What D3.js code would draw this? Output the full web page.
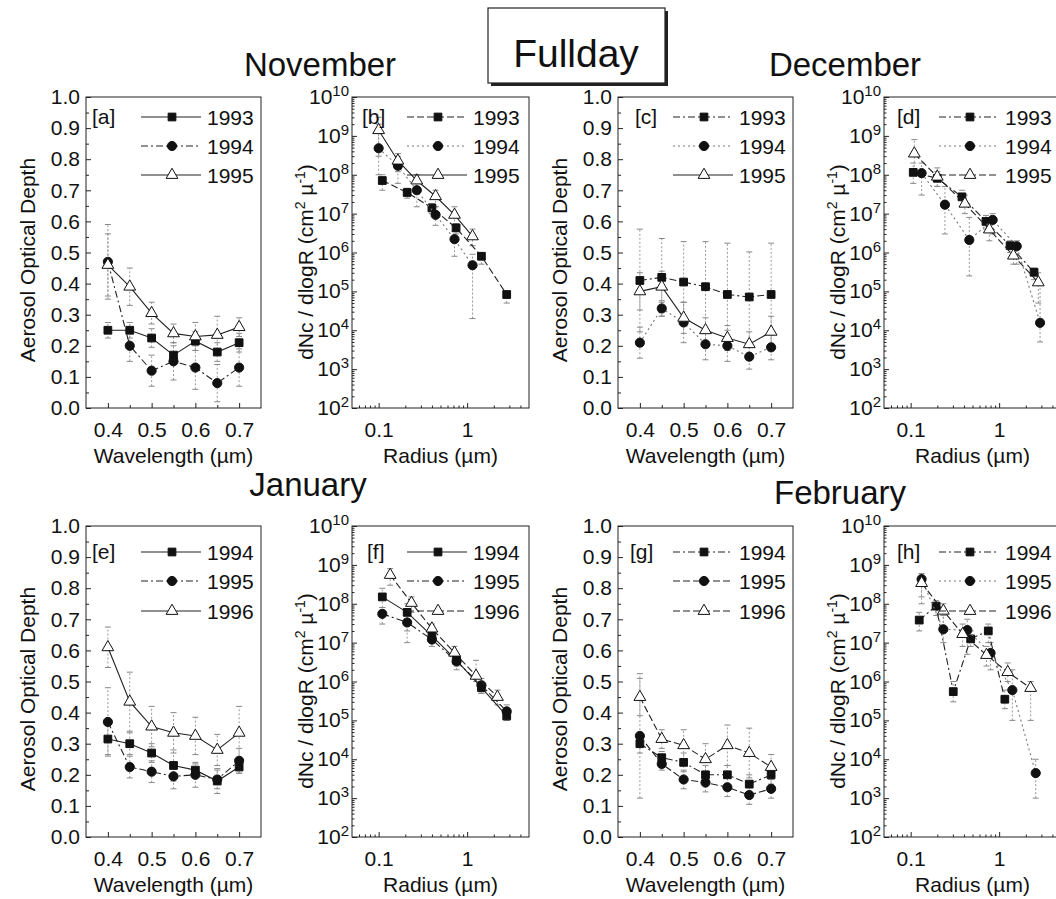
<!DOCTYPE html>
<html>
<head>
<meta charset="utf-8">
<script src="https://cdn.jsdelivr.net/npm/d3@7/dist/d3.min.js"></script>
<style>
  body { margin: 0; background: #fff; }
  svg text { font-family: "Liberation Sans", Arial, sans-serif; fill: #111; }
</style>
</head>
<body>
<svg id="fig" width="1056" height="899"></svg>
<script>
// ---- values ----
var wavelength = [0.4, 0.45, 0.5, 0.55, 0.6, 0.65, 0.7];

// [a] November AOD (value, error half-width)
var aodNov93 = [0.25, 0.25, 0.225, 0.17, 0.215, 0.18, 0.21];
var aodNov93Err = [0.025, 0.025, 0.03, 0.03, 0.03, 0.03, 0.03];
var aodNov94 = [0.47, 0.20, 0.12, 0.15, 0.13, 0.08, 0.13];
var aodNov94Err = [0.12, 0.05, 0.05, 0.06, 0.07, 0.06, 0.06];
var aodNov95 = [0.46, 0.39, 0.305, 0.24, 0.23, 0.235, 0.26];
var aodNov95Err = [0.10, 0.06, 0.035, 0.03, 0.045, 0.06, 0.03];

// [c] December AOD
var aodDec93 = [0.41, 0.42, 0.405, 0.39, 0.365, 0.357, 0.365];
var aodDec93Err = [0.165, 0.125, 0.13, 0.145, 0.165, 0.145, 0.165];
var aodDec94 = [0.21, 0.32, 0.275, 0.205, 0.20, 0.165, 0.195];
var aodDec94Err = [0.05, 0.025, 0.065, 0.05, 0.05, 0.04, 0.04];
var aodDec95 = [0.375, 0.39, 0.29, 0.25, 0.225, 0.205, 0.245];
var aodDec95Err = [0.06, 0.05, 0.05, 0.04, 0.04, 0.04, 0.05];

// [e] January AOD
var aodJan94 = [0.315, 0.30, 0.27, 0.23, 0.215, 0.18, 0.225];
var aodJan94Err = [0.05, 0.035, 0.03, 0.05, 0.02, 0.04, 0.02];
var aodJan95 = [0.37, 0.225, 0.21, 0.195, 0.20, 0.185, 0.245];
var aodJan95Err = [0.11, 0.035, 0.035, 0.04, 0.04, 0.03, 0.04];
var aodJan96 = [0.61, 0.435, 0.355, 0.335, 0.325, 0.28, 0.335];
var aodJan96Err = [0.065, 0.095, 0.065, 0.065, 0.06, 0.05, 0.085];

// [g] February AOD
var aodFeb94 = [0.30, 0.255, 0.24, 0.20, 0.20, 0.17, 0.20];
var aodFeb94Err = [0.03, 0.02, 0.03, 0.03, 0.03, 0.03, 0.03];
var aodFeb95 = [0.325, 0.235, 0.185, 0.175, 0.16, 0.135, 0.155];
var aodFeb95Err = [0.2, 0.02, 0.03, 0.03, 0.03, 0.03, 0.03];
var aodFeb96 = [0.45, 0.315, 0.295, 0.25, 0.295, 0.27, 0.225];
var aodFeb96Err = [0.06, 0.03, 0.05, 0.05, 0.065, 0.08, 0.04];

// [b] November size distribution (radius um, dNc/dlogR, error low / high)
var rNov93 = [0.11, 0.21, 0.4, 0.75, 1.45, 2.8];
var nNov93 = [7.1e7, 3.5e7, 1.4e7, 4.3e6, 8e5, 8.3e4];
var nNov93Lo = [4e7, 2.5e7, 1e7, 3e6, 5e5, 5e4];
var nNov93Hi = [1e8, 4.5e7, 1.8e7, 5.5e6, 1e6, 1e5];
var rNov94 = [0.1, 0.165, 0.27, 0.44, 0.72, 1.15];
var nNov94 = [4.8e8, 1.7e8, 4e7, 9.3e6, 2.2e6, 4.7e5];
var nNov94Lo = [1e8, 6e7, 1.5e7, 5e6, 8e5, 2e4];
var nNov94Hi = [2e9, 3e8, 6e7, 1.5e7, 3.5e6, 9e5];
var rNov95 = [0.1, 0.165, 0.27, 0.44, 0.72, 1.15];
var nNov95 = [1.4e9, 2.3e8, 7.1e7, 2.8e7, 9.3e6, 2.6e6];
var nNov95Lo = [3e8, 1.2e8, 5e7, 1.5e7, 5e6, 1.5e6];
var nNov95Hi = [3e9, 3.5e8, 1e8, 4e7, 1.5e7, 4e6];

// [d] December size distribution
var rDec93 = [0.107, 0.2, 0.38, 0.71, 1.33, 2.48];
var nDec93 = [1.15e8, 8.1e7, 2.7e7, 6.3e6, 1.5e6, 3.1e5];
var nDec93Lo = [6e7, 5e7, 1.5e7, 4e6, 1e6, 2e5];
var nDec93Hi = [2e8, 1.2e8, 4e7, 9e6, 2e6, 4e5];
var rDec94 = [0.133, 0.244, 0.46, 0.845, 1.58, 2.9];
var nDec94 = [1.1e8, 1.7e7, 2.1e6, 6.9e6, 1.45e6, 1.55e4];
var nDec94Lo = [3e7, 3e6, 2.5e5, 3e6, 5e5, 5e3];
var nDec94Hi = [2e8, 5e7, 8e6, 1e7, 2e6, 1.6e5];
var rDec95 = [0.11, 0.2, 0.41, 0.775, 1.45, 2.77];
var nDec95 = [3.5e8, 8.9e7, 1.8e7, 3.9e6, 8.3e5, 1.7e5];
var nDec95Lo = [1e8, 5e7, 1e7, 2e6, 5e5, 5e4];
var nDec95Hi = [8e8, 1.5e8, 3e7, 6e6, 1.2e6, 3e5];

// [f] January size distribution
var rJan94 = [0.11, 0.21, 0.4, 0.76, 1.45, 2.8];
var nJan94 = [1.5e8, 6e7, 1.5e7, 3.5e6, 7e5, 1.3e5];
var nJan94Lo = [8e7, 2e7, 1e7, 2.5e6, 5e5, 1e5];
var nJan94Hi = [2.5e8, 1e8, 2e7, 5e6, 1e6, 1.8e5];
var rJan95 = [0.11, 0.21, 0.4, 0.76, 1.45, 2.8];
var nJan95 = [5.5e7, 3.3e7, 1.2e7, 3.3e6, 8e5, 1.7e5];
var nJan95Lo = [3e7, 1e7, 8e6, 2e6, 5e5, 1e5];
var nJan95Hi = [8e7, 5e7, 1.8e7, 5e6, 1.2e6, 2.5e5];
var rJan96 = [0.135, 0.235, 0.4, 0.72, 1.26, 2.2];
var nJan96 = [5.5e8, 1.05e8, 2.3e7, 5.5e6, 1.4e6, 4e5];
var nJan96Lo = [3e8, 6e7, 1.5e7, 4e6, 1e6, 2.5e5];
var nJan96Hi = [8e8, 1.5e8, 3e7, 8e6, 3.5e6, 6e5];

// [h] February size distribution
var rFeb94 = [0.125, 0.194, 0.303, 0.477, 0.754, 1.16];
var nFeb94 = [3.8e7, 8.7e7, 5.5e5, 1.25e7, 2e7, 3.5e5];
var nFeb94Lo = [2e7, 5e7, 3e5, 8e6, 1e7, 2e5];
var nFeb94Hi = [6e7, 1.2e8, 1e6, 2e7, 3e7, 6e5];
var rFeb95 = [0.133, 0.234, 0.437, 0.8, 1.41, 2.59];
var nFeb95 = [4.3e8, 2.2e7, 2.1e7, 5.4e6, 6e5, 4.4e3];
var nFeb95Lo = [1e8, 1e7, 5e6, 2e6, 1e5, 1e3];
var nFeb95Hi = [6e8, 5e7, 4e7, 1e7, 2e6, 1e4];
var rFeb96 = [0.133, 0.234, 0.387, 0.72, 1.25, 2.27];
var nFeb96 = [3.4e8, 6.6e7, 1.66e7, 4.8e6, 1.74e6, 6.8e5];
var nFeb96Lo = [1.5e8, 2e7, 8e6, 2.5e6, 1e6, 1e5];
var nFeb96Hi = [5e8, 1e8, 3e7, 8e6, 3e6, 1e6];

// ---- panels ----
var panels = [
  {tag: "[a]", type: "aod", col: 0, row: 0, tagDx: 6, years: ["1993", "1994", "1995"], lines: ["solid", "dashdot", "solid"],
   series: [{y: aodNov93, e: aodNov93Err}, {y: aodNov94, e: aodNov94Err}, {y: aodNov95, e: aodNov95Err}]},
  {tag: "[b]", type: "size", col: 1, row: 0, tagDx: 10, years: ["1993", "1994", "1995"], lines: ["dash", "dot", "solid"],
   series: [{r: rNov93, n: nNov93, lo: nNov93Lo, hi: nNov93Hi}, {r: rNov94, n: nNov94, lo: nNov94Lo, hi: nNov94Hi}, {r: rNov95, n: nNov95, lo: nNov95Lo, hi: nNov95Hi}]},
  {tag: "[c]", type: "aod", col: 2, row: 0, tagDx: 17, years: ["1993", "1994", "1995"], lines: ["dashdot", "dot", "solid"],
   series: [{y: aodDec93, e: aodDec93Err}, {y: aodDec94, e: aodDec94Err}, {y: aodDec95, e: aodDec95Err}]},
  {tag: "[d]", type: "size", col: 3, row: 0, tagDx: 13, years: ["1993", "1994", "1995"], lines: ["dashdot", "dot", "dash"],
   series: [{r: rDec93, n: nDec93, lo: nDec93Lo, hi: nDec93Hi}, {r: rDec94, n: nDec94, lo: nDec94Lo, hi: nDec94Hi}, {r: rDec95, n: nDec95, lo: nDec95Lo, hi: nDec95Hi}]},
  {tag: "[e]", type: "aod", col: 0, row: 1, tagDx: 6, years: ["1994", "1995", "1996"], lines: ["solid", "dashdot", "solid"],
   series: [{y: aodJan94, e: aodJan94Err}, {y: aodJan95, e: aodJan95Err}, {y: aodJan96, e: aodJan96Err}]},
  {tag: "[f]", type: "size", col: 1, row: 1, tagDx: 15, years: ["1994", "1995", "1996"], lines: ["solid", "dashdot", "dash"],
   series: [{r: rJan94, n: nJan94, lo: nJan94Lo, hi: nJan94Hi}, {r: rJan95, n: nJan95, lo: nJan95Lo, hi: nJan95Hi}, {r: rJan96, n: nJan96, lo: nJan96Lo, hi: nJan96Hi}]},
  {tag: "[g]", type: "aod", col: 2, row: 1, tagDx: 12, years: ["1994", "1995", "1996"], lines: ["dashdot", "dash", "dash"],
   series: [{y: aodFeb94, e: aodFeb94Err}, {y: aodFeb95, e: aodFeb95Err}, {y: aodFeb96, e: aodFeb96Err}]},
  {tag: "[h]", type: "size", col: 3, row: 1, tagDx: 13, years: ["1994", "1995", "1996"], lines: ["dashdot", "dot", "dash"],
   series: [{r: rFeb94, n: nFeb94, lo: nFeb94Lo, hi: nFeb94Hi}, {r: rFeb95, n: nFeb95, lo: nFeb95Lo, hi: nFeb95Hi}, {r: rFeb96, n: nFeb96, lo: nFeb96Lo, hi: nFeb96Hi}]}
];

var monthTitles = [["November", 320, 76], ["December", 845, 76], ["January", 308, 496], ["February", 840, 504]];

// ---- layout ----
var colX = [86, 352, 618, 884];
var rowY = [97, 526];
var H = 311;
var legendRows = [[20, 49, 78], [26, 55, 85]];
var dashes = {solid: null, dash: "7,3", dashdot: "7,3,2,3", dot: "2,3"};
var symbolTypes = [d3.symbolSquare, d3.symbolCircle, d3.symbolTriangle];
var symbolSize = [60, 66, 60];

var svg = d3.select("#fig");

function styleAxis(sel) {
  sel.attr("font-family", null).attr("font-size", null);
  sel.select(".domain").remove();
  sel.selectAll("line").attr("stroke", "#222");
  sel.selectAll("text").attr("font-size", 21).attr("fill", "#111");
}

function marker(g, k, cx, cy) {
  g.append("path")
    .attr("d", d3.symbol().type(symbolTypes[k]).size(symbolSize[k])())
    .attr("transform", "translate(" + cx + "," + cy + ")")
    .attr("fill", k == 2 ? "#fff" : "#111")
    .attr("stroke", "#111")
    .attr("stroke-width", 1);
}

function lineColor(style) { return style == "dot" ? "#777" : "#222"; }

panels.forEach(function (p) {
  var x0 = colX[p.col], y0 = rowY[p.row];
  var w = p.type == "aod" ? 175 : 177;
  var g = svg.append("g").attr("transform", "translate(" + x0 + "," + y0 + ")");
  var x, y;
  if (p.type == "aod") {
    x = d3.scaleLinear().domain([0.35, 0.75]).range([0, w]);
    y = d3.scaleLinear().domain([0, 1]).range([H, 0]);
  } else {
    x = d3.scaleLog().domain([0.05, 5]).range([0, w]);
    y = d3.scaleLog().domain([1e2, 1e10]).range([H, 0]);
  }

  // error bars
  p.series.forEach(function (s) {
    var pts;
    if (p.type == "aod") {
      pts = wavelength.map(function (wl, i) { return [x(wl), y(s.y[i] - s.e[i]), y(s.y[i] + s.e[i])]; });
    } else {
      pts = s.r.map(function (r, i) { return [x(r), y(s.lo[i]), y(s.hi[i])]; });
    }
    pts.forEach(function (q) {
      g.append("line").attr("x1", q[0]).attr("x2", q[0]).attr("y1", q[1]).attr("y2", q[2])
        .attr("stroke", "#999").attr("stroke-dasharray", "2,2");
      [q[1], q[2]].forEach(function (yy) {
        g.append("line").attr("x1", q[0] - 3).attr("x2", q[0] + 3).attr("y1", yy).attr("y2", yy)
          .attr("stroke", "#888");
      });
    });
  });

  // lines + markers
  p.series.forEach(function (s, k) {
    var pts = p.type == "aod"
      ? wavelength.map(function (wl, i) { return [x(wl), y(s.y[i])]; })
      : s.r.map(function (r, i) { return [x(r), y(s.n[i])]; });
    g.append("path").attr("d", d3.line()(pts))
      .attr("fill", "none").attr("stroke", lineColor(p.lines[k])).attr("stroke-width", 1.1)
      .attr("stroke-dasharray", dashes[p.lines[k]]);
    pts.forEach(function (q) { marker(g, k, q[0], q[1]); });
  });

  // frame
  g.append("rect").attr("width", w).attr("height", H)
    .attr("fill", "none").attr("stroke", "#222").attr("stroke-width", 1);

  // axes
  if (p.type == "aod") {
    var ya = g.append("g").call(d3.axisLeft(y).tickValues(d3.range(0, 11).map(function (i) { return i / 10; }))
      .tickFormat(d3.format(".1f")).tickSizeInner(-5).tickSizeOuter(0).tickPadding(6));
    styleAxis(ya);
    var ym = g.append("g").call(d3.axisLeft(y).tickValues(d3.range(0, 10).map(function (i) { return i / 10 + 0.05; }))
      .tickFormat("").tickSizeInner(-3).tickSizeOuter(0));
    styleAxis(ym);
    var xa = g.append("g").attr("transform", "translate(0," + H + ")")
      .call(d3.axisBottom(x).tickValues([0.4, 0.5, 0.6, 0.7]).tickFormat(d3.format(".1f"))
        .tickSizeInner(-5).tickSizeOuter(0).tickPadding(14));
    styleAxis(xa);
    var xm = g.append("g").attr("transform", "translate(0," + H + ")")
      .call(d3.axisBottom(x).tickValues([0.45, 0.55, 0.65]).tickFormat("").tickSizeInner(-3).tickSizeOuter(0));
    styleAxis(xm);
    g.append("text").attr("transform", "translate(-51," + 163 + ") rotate(-90)")
      .attr("text-anchor", "middle").attr("font-size", 21).text("Aerosol Optical Depth");
    g.append("text").attr("x", w / 2).attr("y", H + 55).attr("text-anchor", "middle")
      .attr("font-size", 21).text("Wavelength (\u00b5m)");
  } else {
    var decades = d3.range(2, 11).map(function (e) { return Math.pow(10, e); });
    var ya2 = g.append("g").call(d3.axisLeft(y).tickValues(decades).tickFormat("")
      .tickSizeInner(-5).tickSizeOuter(0));
    styleAxis(ya2);
    var minorY = [];
    d3.range(2, 10).forEach(function (e) {
      d3.range(2, 10).forEach(function (m) { minorY.push(m * Math.pow(10, e)); });
    });
    var ym2 = g.append("g").call(d3.axisLeft(y).tickValues(minorY).tickFormat("").tickSizeInner(-2.5).tickSizeOuter(0));
    styleAxis(ym2);
    decades.forEach(function (v) {
      var t = g.append("text").attr("x", -3).attr("y", y(v) + 7).attr("text-anchor", "end").attr("font-size", 21);
      t.append("tspan").text("10");
      t.append("tspan").attr("font-size", 15).attr("dy", -8).text(Math.round(Math.log10(v)));
    });
    var xa2 = g.append("g").attr("transform", "translate(0," + H + ")")
      .call(d3.axisBottom(x).tickValues([0.1, 1]).tickFormat(function (d) { return d < 1 ? "0.1" : "1"; })
        .tickSizeInner(-5).tickSizeOuter(0).tickPadding(14));
    styleAxis(xa2);
    var xm2 = g.append("g").attr("transform", "translate(0," + H + ")")
      .call(d3.axisBottom(x).tickValues([0.06, 0.07, 0.08, 0.09, 0.2, 0.3, 0.4, 0.5, 0.6, 0.7, 0.8, 0.9, 2, 3, 4])
        .tickFormat("").tickSizeInner(-2.5).tickSizeOuter(0));
    styleAxis(xm2);
    var lab = g.append("text").attr("transform", "translate(-39," + 165 + ") rotate(-90)")
      .attr("text-anchor", "middle").attr("font-size", 21);
    lab.append("tspan").text("dNc / dlogR (cm");
    lab.append("tspan").attr("font-size", 14).attr("dy", -8).text("2");
    lab.append("tspan").attr("dy", 8).text(" \u00b5");
    lab.append("tspan").attr("font-size", 14).attr("dy", -8).text("-1");
    lab.append("tspan").attr("dy", 8).text(")");
    g.append("text").attr("x", w / 2).attr("y", H + 55).attr("text-anchor", "middle")
      .attr("font-size", 21).text("Radius (\u00b5m)");
  }

  // panel tag + legend
  g.append("text").attr("x", p.tagDx).attr("y", legendRows[p.row][0] + 7).attr("font-size", 21).text(p.tag);
  p.years.forEach(function (yr, k) {
    var ly = legendRows[p.row][k];
    g.append("line").attr("x1", 55).attr("x2", 115).attr("y1", ly).attr("y2", ly)
      .attr("stroke", lineColor(p.lines[k])).attr("stroke-width", 1.1)
      .attr("stroke-dasharray", dashes[p.lines[k]]);
    marker(g, k, 86, ly);
    g.append("text").attr("x", 121).attr("y", ly + 7.5).attr("font-size", 21).text(yr);
  });
});

// month titles
monthTitles.forEach(function (t) {
  svg.append("text").attr("x", t[1]).attr("y", t[2]).attr("text-anchor", "middle")
    .attr("font-size", 33).text(t[0]);
});

// "Fullday" box with shadow
svg.append("rect").attr("x", 491).attr("y", 11).attr("width", 177).attr("height", 75).attr("fill", "#222");
svg.append("rect").attr("x", 488).attr("y", 8).attr("width", 177).attr("height", 75)
  .attr("fill", "#fff").attr("stroke", "#222").attr("stroke-width", 1.2);
svg.append("text").attr("x", 576).attr("y", 67).attr("text-anchor", "middle").attr("font-size", 39).text("Fullday");
</script>
</body>
</html>
